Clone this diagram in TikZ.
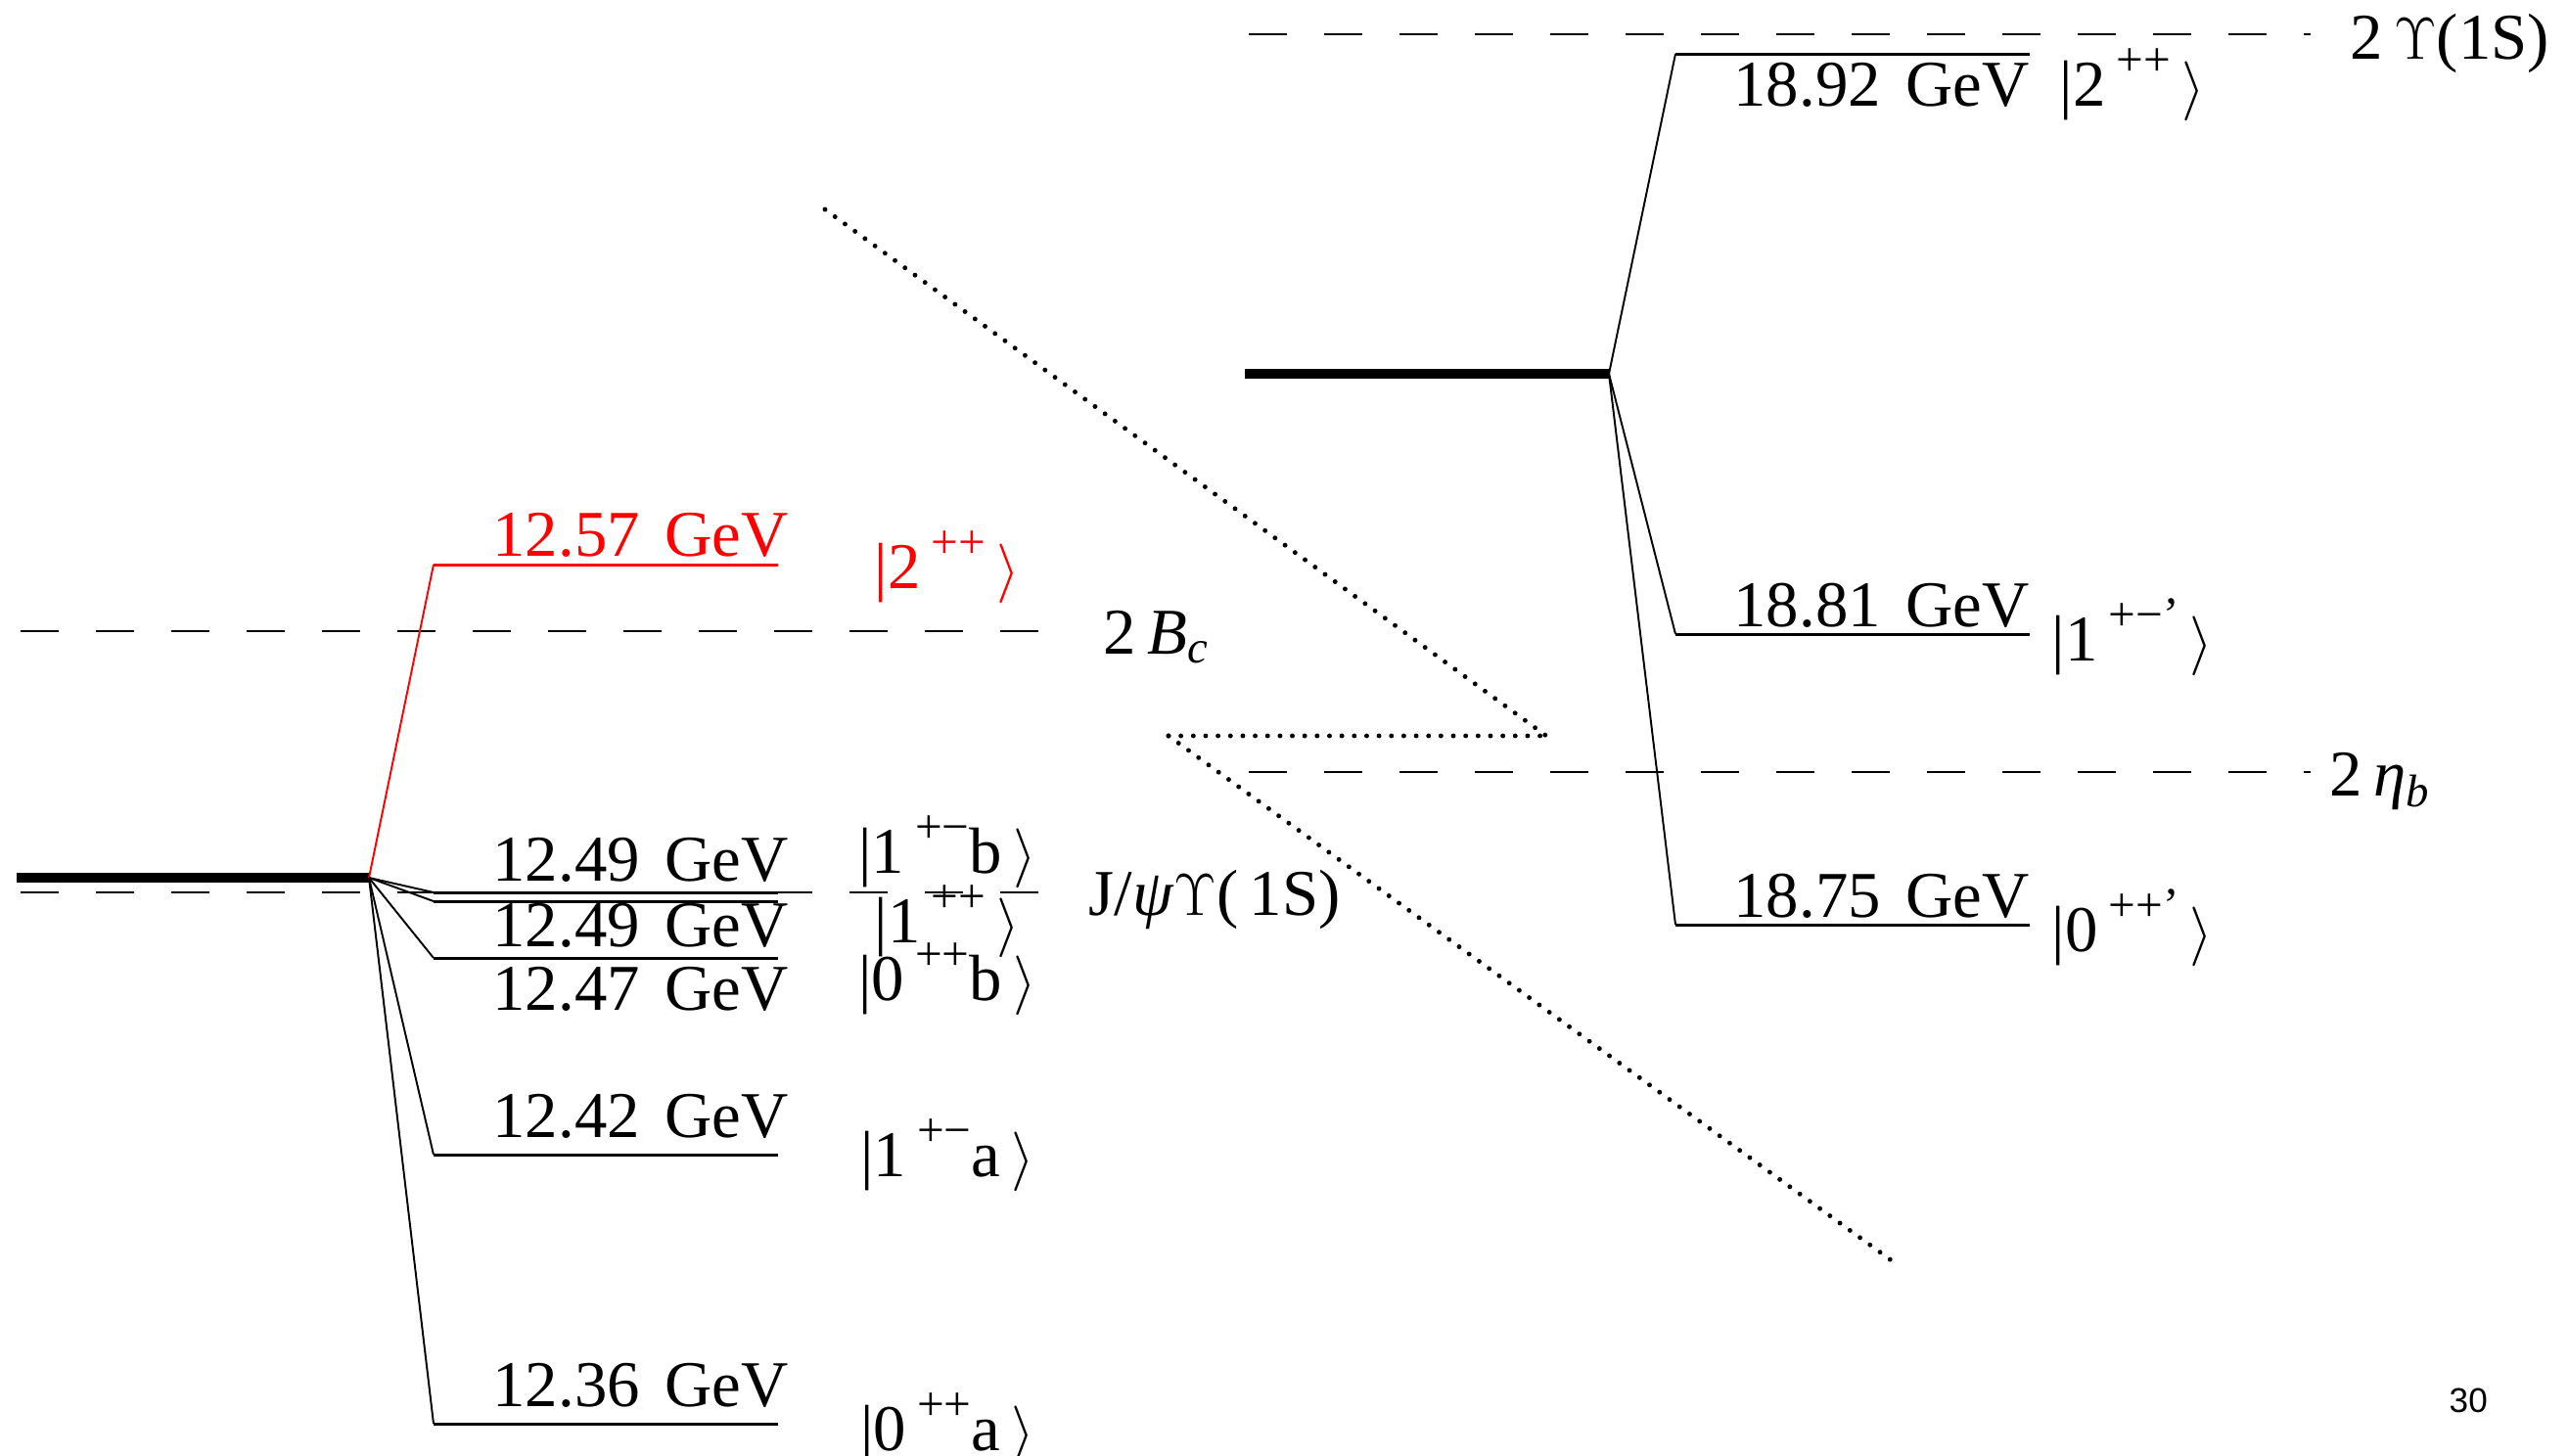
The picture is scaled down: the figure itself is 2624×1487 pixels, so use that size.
\documentclass[tikz,border=0pt]{standalone}
\usepackage{fontspec}
\setmainfont{Liberation Serif}
\newfontfamily\pagefont{Liberation Sans}
\newcommand\labfont{\fontsize{19pt}{22pt}\selectfont}
\newcommand\supfont{\fontsize{14pt}{14pt}\selectfont}
\newcommand\gev[1]{#1\hspace{0.38em}GeV}
\newcommand\myket[3]{|#1\,\raisebox{0.45em}{\supfont #2}#3\,$\rangle$}
\begin{document}
\begin{tikzpicture}[x=0.1mm,y=-0.1mm,
  lab/.style={inner sep=0pt, font=\labfont},
  level/.style={line width=0.85pt},
  conn/.style={line width=0.55pt},
  thickbar/.style={line width=2.6pt},
  thr/.style={line width=0.6pt, dash pattern=on 3.9mm off 3.8mm},
  dotline/.style={line width=1.4pt, line cap=round, dash pattern=on 0pt off 3.6pt}]
\useasboundingbox (0,0) rectangle (2624,1487);

% thresholds (dashed)
\coordinate (BcA) at (21,645);  \coordinate (BcB) at (1061,645);
\coordinate (JpA) at (21,912);  \coordinate (JpB) at (1061,912);
\coordinate (UUA) at (1276,35); \coordinate (UUB) at (2361,35);
\coordinate (EtA) at (1276,789); \coordinate (EtB) at (2361,789);
\draw[thr] (BcA) -- (BcB);
\draw[thr] (JpA) -- (JpB);
\draw[thr] (UUA) -- (UUB);
\draw[thr] (EtA) -- (EtB);

% dotted wedge
\coordinate (D1) at (843,214);
\coordinate (D2) at (1580,752);
\coordinate (D3) at (1194,752);
\coordinate (D4) at (1938,1292);
\draw[dotline] (D1) -- (D2);
\draw[dotline] (D3) -- (D2);
\draw[dotline] (D3) -- (D4);

% left multiplet
\coordinate (Ls) at (17,897);
\coordinate (Lc) at (377,897);
\draw[thickbar] (Ls) -- (Lc);
\coordinate (R1) at (443,577);  \coordinate (R2) at (795,577);
\draw[red,conn] (Lc) -- (R1);
\draw[red,level] (R1) -- (R2);
\foreach \n/\yy in {a/912,b/921,c/979,d/1180,e/1455}{
  \coordinate (\n1) at (443,\yy);
  \coordinate (\n2) at (795,\yy);
  \draw[conn] (Lc) -- (\n1);
  \draw[level] (\n1) -- (\n2);
}

% right multiplet
\coordinate (Rs) at (1272,382);
\coordinate (Rc) at (1644,382);
\draw[thickbar] (Rs) -- (Rc);
\foreach \n/\yy in {f/55,g/648,h/945}{
  \coordinate (\n1) at (1712,\yy);
  \coordinate (\n2) at (2074,\yy);
  \draw[conn] (Rc) -- (\n1);
  \draw[level] (\n1) -- (\n2);
}

% energy labels left
\node[lab,anchor=base east,text=red] (t1) at (806,568) {\gev{12.57}};
\node[lab,anchor=base east] (t2) at (806,900) {\gev{12.49}};
\node[lab,anchor=base east] (t3) at (806,967) {\gev{12.49}};
\node[lab,anchor=base east] (t4) at (806,1032) {\gev{12.47}};
\node[lab,anchor=base east] (t5) at (806,1162) {\gev{12.42}};
\node[lab,anchor=base east] (t6) at (806,1437) {\gev{12.36}};

% kets left
\node[lab,anchor=base,text=red] (k1) at (968,601) {\myket{2}{++}{}};
\node[lab,anchor=base] (k2) at (968,892) {\myket{1}{+\textminus}{b}};
\node[lab,anchor=base] (k3) at (968,963) {\myket{1}{++}{}};
\node[lab,anchor=base] (k4) at (968,1022) {\myket{0}{++}{b}};
\node[lab,anchor=base] (k5) at (968,1202) {\myket{1}{+\textminus}{a}};
\node[lab,anchor=base] (k6) at (968,1482) {\myket{0}{++}{a}};

% right labels
\node[lab,anchor=base east] (t7) at (2074,108) {\gev{18.92}};
\node[lab,anchor=base east] (t8) at (2074,640) {\gev{18.81}};
\node[lab,anchor=base east] (t9) at (2074,937) {\gev{18.75}};
\node[lab,anchor=base] (k7) at (2179,108) {\myket{2}{++}{}};
\node[lab,anchor=base] (k8) at (2179,675) {\myket{1}{+\textminus’}{}};
\node[lab,anchor=base] (k9) at (2179,972) {\myket{0}{++’}{}};

% threshold labels
\node[lab,anchor=base west] (n1) at (1127,668) {2\,\textit{B}\textsubscript{\textit{c}}};
\node[lab,anchor=base west] (n2) at (1112,935) {J/\textit{ψ}$\Upsilon$(\,1S)};
\node[lab,anchor=base west] (n3) at (2401,60) {2\,$\Upsilon$(1S)};
\node[lab,anchor=base west] (n4) at (2380,813) {2\,\textit{η}\textsubscript{\textit{b}}};

% page number
\node[inner sep=0pt,anchor=base west,font=\pagefont\fontsize{10pt}{12pt}\selectfont] (pg) at (2502,1443) {30};
\end{tikzpicture}
\end{document}
